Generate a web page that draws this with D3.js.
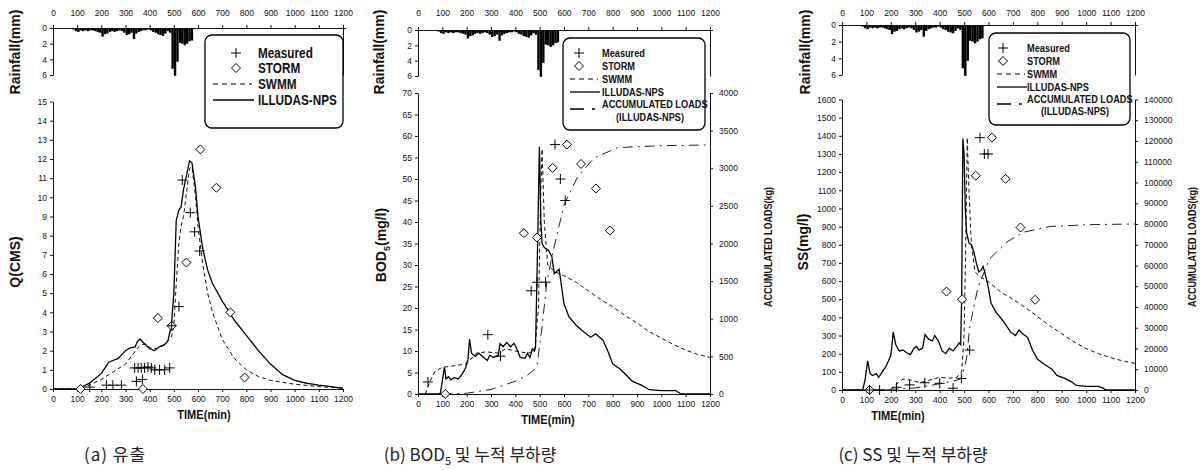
<!DOCTYPE html>
<html>
<head>
<meta charset="utf-8">
<script src="https://cdn.jsdelivr.net/npm/d3@7"></script>
<style>
  body { margin: 0; background: #fff; }
  svg { display: block; }
  .tick text { font-family: "Liberation Sans", Arial, sans-serif; font-size: 8.5px; fill: #111; }
  .domain, .tick line { stroke: #111; stroke-width: 1; }
  .ttl { font-family: "Liberation Sans", Arial, sans-serif; font-weight: bold; fill: #111; }
  .nar { font-family: "Liberation Sans", Arial, sans-serif; font-weight: bold; fill: #111; }
  .cap { font-family: "Noto Sans CJK KR", "Noto Sans", sans-serif; font-size: 17px; fill: #222; }
</style>
</head>
<body>
<svg id="chart" width="1200" height="470"></svg>
<script>
// ---- rainfall (common to all panels), 10 minute blocks ----
var rainTime = [80,90,100,110,120,130,140,150,160,170,180,190,200,210,220,230,240,250,260,270,280,290,300,310,320,330,340,350,360,370,380,390,400,410,420,430,440,450,460,470,480,490,500,510,520,530,540,550,560,570];
var rainDepth = [0.2,0.4,0.5,0.3,0.4,0.3,0.4,0.3,0.3,0.4,0.5,0.6,1.1,0.8,0.7,0.5,0.4,0.5,0.4,0.3,0.4,0.6,0.9,0.8,0.6,1.4,0.7,0.5,0.4,0.3,0.3,0.2,0.3,0.5,0.6,0.8,0.9,1.0,0.7,0.4,0.6,5.2,6.1,4.3,1.9,2.0,2.2,2.0,1.7,1.6];

// ---- (a) flow ----
var qIlludas = [[0,0],[100,0],[110,0.05],[150,0.3],[200,0.8],[230,1.4],[270,1.6],[300,2.0],[320,2.15],[340,2.2],[350,2.5],[360,2.6],[380,2.35],[400,2.1],[420,2.0],[440,2.2],[460,2.3],[475,2.5],[490,3.3],[500,5.0],[510,8.8],[520,9.3],[530,9.5],[540,10.4],[550,11.0],[565,11.9],[575,11.8],[590,10.5],[600,9.0],[620,7.3],[640,6.2],[660,5.5],[700,4.6],[750,3.6],[800,2.8],[850,2.0],[900,1.3],[950,0.75],[1000,0.45],[1050,0.3],[1100,0.2],[1150,0.12],[1200,0.03]];
var qSwmm = [[0,0],[110,0],[120,0.05],[150,0.2],[200,0.5],[250,0.9],[300,1.3],[330,1.8],[360,2.3],[380,2.35],[400,2.15],[430,2.1],[460,2.3],[490,2.7],[500,3.3],[510,5.5],[520,7.5],[530,8.5],[540,9.0],[555,10.5],[565,11.5],[575,11.6],[590,10.0],[600,8.5],[620,6.5],[640,5.0],[660,4.0],[700,2.6],[750,1.6],[800,1.0],[850,0.65],[900,0.45],[1000,0.25],[1100,0.12],[1200,0.05]];
var qMeasured = [[152,0.1],[221,0.2],[248,0.2],[283,0.2],[345,0.4],[370,0.5],[338,1.1],[352,1.1],[365,1.1],[379,1.1],[393,1.15],[407,1.1],[421,1.0],[441,1.0],[462,1.0],[483,1.1],[491,3.3],[521,4.3],[535,10.9],[568,9.2],[586,8.2],[607,7.2]];
var qStorm = [[114,0],[372,0],[434,3.7],[491,3.3],[552,6.6],[610,12.5],[676,10.5],[734,4.0],[793,0.6]];

// ---- (b) BOD5 ----
var bodIlludas = [[0,0],[90,0],[93,0.5],[109,6.3],[115,3.5],[125,4],[135,3.3],[150,3.8],[165,3.5],[180,4.5],[195,6],[205,8],[212,12.7],[220,9.5],[235,8.7],[250,9.5],[270,8.5],[285,7.8],[295,9],[310,8.5],[330,9],[337,11.7],[350,11],[365,12],[380,11],[395,11.8],[410,10],[420,8.5],[440,8.3],[450,9.5],[460,8.5],[470,10.5],[478,10],[483,11],[490,30],[499,57.5],[505,40],[510,35],[520,34],[535,33.5],[550,32],[560,28],[570,28.5],[580,29],[590,25],[600,21],[620,18],[650,16],[680,14.5],[710,13.2],[730,14],[760,12.5],[780,10],[800,7],[830,5.8],[860,4.2],[880,3],[920,2],[950,1],[1000,0.8],[1060,0.8],[1080,0],[1200,0]];
var bodSwmm = [[30,0],[50,3],[70,5.3],[100,6.2],[140,6.5],[200,7],[240,9.5],[280,9.8],[330,9.5],[360,10.5],[400,10],[450,9.5],[480,10],[495,20],[505,48],[510,57],[519,40],[533,30],[560,28.5],[600,27.5],[650,26],[700,24],[750,22],[800,20.3],[850,18.3],[900,16.5],[950,14.5],[1000,13],[1050,11.5],[1100,10.2],[1150,9.2],[1200,8.5]];
var bodLoad = [[100,0],[200,10],[300,60],[400,170],[450,250],[480,330],[490,400],[510,900],[530,1500],[551,1834],[574,2154],[601,2520],[656,2885],[724,3137],[820,3274],[1000,3300],[1200,3310]];
var bodMeasured = [[41,2.8],[287,13.8],[339,8.8],[465,24],[489,26],[524,26],[563,58],[585,50],[605,45]];
var bodStorm = [[112,0],[435,37.4],[489,36.4],[553,52.6],[612,58],[670,53.5],[731,47.8],[789,38]];

// ---- (c) SS ----
var ssIlludas = [[0,0],[85,0],[95,60],[105,160],[115,90],[125,80],[140,90],[150,70],[165,100],[180,130],[200,190],[210,320],[220,250],[235,215],[250,220],[265,205],[280,195],[295,230],[305,240],[315,220],[330,230],[340,305],[355,280],[370,270],[380,300],[395,270],[410,215],[425,200],[440,230],[455,215],[470,240],[480,260],[486,250],[490,500],[495,1385],[500,1300],[505,1000],[510,870],[520,810],[530,800],[540,760],[550,700],[560,650],[570,660],[578,680],[590,620],[600,560],[610,480],[630,430],[660,380],[690,320],[710,300],[725,330],[740,310],[760,290],[780,220],[800,170],[830,140],[860,115],[880,80],[910,65],[940,45],[960,25],[1000,20],[1050,20],[1070,10],[1080,0],[1200,0]];
var ssSwmm = [[0,0],[200,0],[220,30],[250,60],[280,55],[320,40],[360,55],[400,70],[440,65],[470,70],[490,100],[500,300],[508,900],[513,1390],[520,1100],[530,800],[545,650],[570,620],[600,595],[650,540],[700,500],[750,455],[800,405],[850,355],[900,310],[950,265],[1000,228],[1050,200],[1100,178],[1150,160],[1200,147]];
var ssLoad = [[100,0],[200,300],[300,1000],[400,3000],[480,5000],[490,6000],[510,15000],[523,30400],[557,49600],[605,63250],[674,71250],[742,76000],[851,78800],[1015,79700],[1200,80000]];
var ssMeasured = [[113,0],[154,0],[223,15],[277,28],[339,40],[400,37],[455,10],[489,64],[523,220],[565,1390],[583,1300],[598,1300]];
var ssStorm = [[113,0],[428,542],[492,500],[548,1180],[614,1390],[670,1163],[731,895],[791,497]];

var svg = d3.select("#chart");
var fmt = d3.format("d");

var diamond = "M0,-4.5L4.5,0L0,4.5L-4.5,0Z";
function crossPath(s) { return "M" + (-s) + ",0H" + s + "M0," + (-s) + "V" + s; }

// bold text squeezed sideways, like the narrow face of the original
function narrow(sel, x, y, txt, fs, sx, anchor, rot) {
    return sel.append("text").attr("class", "nar").attr("font-size", fs)
        .attr("transform", "translate(" + x + "," + y + ")" + (rot ? " rotate(-90)" : "") + " scale(" + sx + ",1)")
        .attr("text-anchor", anchor || "start").attr("dy", "0.35em").text(txt);
}

function panel(cfg) {
    var x = d3.scaleLinear().domain([0, 1200]).range([cfg.x0, cfg.x1]);
    var yr = d3.scaleLinear().domain([0, 6]).range([cfg.r0, cfg.r6]);
    var y = d3.scaleLinear().domain([0, cfg.yMax]).range([cfg.b0, cfg.bTop]);

    var g = svg.append("g");

    // rainfall hyetograph
    g.selectAll("rect.rain").data(rainTime).enter().append("rect")
        .attr("x", function(d) { return x(d); })
        .attr("width", function(d) { return x(d + 10) - x(d); })
        .attr("y", yr(0))
        .attr("height", function(d, i) { return yr(rainDepth[i]) - yr(0); })
        .attr("fill", "#000");

    g.append("g").attr("transform", "translate(0," + cfg.r0 + ")")
        .call(d3.axisTop(x).tickValues(d3.range(0, 1201, 100)).tickFormat(fmt).tickSize(3).tickPadding(cfg.r0 - 19).tickSizeOuter(0));
    g.append("g").attr("transform", "translate(" + cfg.x0 + ",0)")
        .call(d3.axisLeft(yr).tickValues([0, 2, 4, 6]).tickFormat(fmt).tickSize(3).tickSizeOuter(0));
    g.append("g").attr("transform", "translate(" + cfg.x1 + ",0)")
        .call(d3.axisRight(yr).tickValues([0]).tickSize(3).tickFormat("").tickSizeOuter(0));

    // lower chart axes
    g.append("g").attr("transform", "translate(0," + cfg.b0 + ")")
        .call(d3.axisBottom(x).tickValues(d3.range(0, 1201, 100)).tickFormat(fmt).tickSize(3).tickPadding(4).tickSizeOuter(0));
    g.append("g").attr("transform", "translate(" + cfg.x0 + ",0)")
        .call(d3.axisLeft(y).tickValues(d3.range(0, cfg.yMax + 1, cfg.yStep)).tickFormat(fmt).tickSize(3).tickSizeOuter(0));

    var line = function(sc) {
        return d3.line().x(function(d) { return x(d[0]); }).y(function(d) { return sc(d[1]); });
    };

    if (cfg.load) {
        var y2 = d3.scaleLinear().domain([0, cfg.y2Max]).range([cfg.b0, cfg.bTop]);
        g.append("g").attr("transform", "translate(" + cfg.x1 + ",0)")
            .call(d3.axisRight(y2).tickValues(d3.range(0, cfg.y2Max + 1, cfg.y2Step)).tickFormat(fmt).tickSize(3).tickPadding(6).tickSizeOuter(0));
        g.append("path").datum(cfg.load)
            .attr("d", line(y2)).attr("fill", "none").attr("stroke", "#222")
            .attr("stroke-width", 1).attr("stroke-dasharray", "10,5,2,5");
    }

    g.append("path").datum(cfg.swmm)
        .attr("d", line(y)).attr("fill", "none").attr("stroke", "#111")
        .attr("stroke-width", 1).attr("stroke-dasharray", "4,3");
    g.append("path").datum(cfg.illudas)
        .attr("d", line(y)).attr("fill", "none").attr("stroke", "#000")
        .attr("stroke-width", 1.3);

    g.selectAll("path.storm").data(cfg.storm).enter().append("path")
        .attr("class", "storm")
        .attr("d", diamond)
        .attr("transform", function(d) { return "translate(" + x(d[0]) + "," + y(d[1]) + ")"; })
        .attr("fill", "#fff").attr("stroke", "#000").attr("stroke-width", 1);
    g.selectAll("path.meas").data(cfg.measured).enter().append("path")
        .attr("class", "meas")
        .attr("d", crossPath(cfg.cross))
        .attr("transform", function(d) { return "translate(" + x(d[0]) + "," + y(d[1]) + ")"; })
        .attr("fill", "none").attr("stroke", "#000").attr("stroke-width", 1);

    // titles
    g.append("text").attr("class", "ttl").attr("font-size", 14)
        .attr("transform", "translate(" + cfg.rainLblX + ",52) rotate(-90)")
        .attr("text-anchor", "middle").text("Rainfall(mm)");
    var yt = g.append("text").attr("class", "ttl").attr("font-size", 14)
        .attr("transform", "translate(" + cfg.yLblX + "," + cfg.yLblY + ") rotate(-90)")
        .attr("text-anchor", "middle");
    cfg.yLabel(yt);
    narrow(g, cfg.timeX, cfg.b0 + 25, "TIME(min)", 13.5, 0.82, "middle");
    if (cfg.load) {
        narrow(g, cfg.accX, 247, "ACCUMULATED LOADS(kg)", 10.5, 0.86, "middle", true);
    }

    // legend
    var L = cfg.legend;
    g.append("rect").attr("x", L.x).attr("y", L.y).attr("width", L.w).attr("height", L.h)
        .attr("rx", 7).attr("fill", "#fff").attr("stroke", "#000").attr("stroke-width", 1.3);
    var lg = g.append("g");
    lg.append("path").attr("d", crossPath(cfg.cross))
        .attr("transform", "translate(" + L.sx + "," + L.rows[0] + ")")
        .attr("fill", "none").attr("stroke", "#000");
    lg.append("path").attr("d", diamond)
        .attr("transform", "translate(" + L.sx + "," + L.rows[1] + ")")
        .attr("fill", "#fff").attr("stroke", "#000");
    lg.append("line").attr("x1", L.lx0).attr("x2", L.lx1).attr("y1", L.rows[2]).attr("y2", L.rows[2])
        .attr("stroke", "#000").attr("stroke-dasharray", "5,4");
    lg.append("line").attr("x1", L.lx0).attr("x2", L.lx1 + 2).attr("y1", L.rows[3]).attr("y2", L.rows[3])
        .attr("stroke", "#000").attr("stroke-width", 1.3);
    var names = ["Measured", "STORM", "SWMM", "ILLUDAS-NPS"];
    names.forEach(function(n, i) {
        narrow(lg, L.tx, L.rows[i], n, L.fs, L.sq);
    });
    if (cfg.load) {
        lg.append("line").attr("x1", L.lx0).attr("x2", L.lx1).attr("y1", L.rows[4] + 5).attr("y2", L.rows[4] + 5)
            .attr("stroke", "#000").attr("stroke-width", 1.3).attr("stroke-dasharray", "14,8,3,8");
        narrow(lg, L.tx, L.rows[4], "ACCUMULATED LOADS", L.fs, L.sq);
        narrow(lg, L.tx + 48, L.rows[5], "(ILLUDAS-NPS)", L.fs, L.sq, "middle");
    }

    // caption
    var c = g.append("text").attr("class", "cap").attr("x", cfg.capX).attr("y", 461).attr("text-anchor", "middle");
    cfg.caption(c);
}

panel({
    x0: 53, x1: 343, r0: 28, r6: 75, b0: 389, bTop: 101.5, yMax: 15, yStep: 1,
    illudas: qIlludas, swmm: qSwmm, measured: qMeasured, storm: qStorm, cross: 5,
    rainLblX: 20, yLblX: 20, yLblY: 262, timeX: 204,
    yLabel: function(t) { t.text("Q(CMS)"); },
    legend: { x: 205, y: 35, w: 138, h: 93, fs: 14, sq: 0.84, rows: [53, 68, 84, 100], sx: 236, lx0: 213, lx1: 252, tx: 258 },
    capX: 115,
    caption: function(t) { t.attr("letter-spacing", 1).text("(a)  유출"); }
});

panel({
    x0: 418, x1: 710, r0: 30, r6: 76, b0: 394, bTop: 93, yMax: 70, yStep: 5,
    y2Max: 4000, y2Step: 500, load: bodLoad,
    illudas: bodIlludas, swmm: bodSwmm, measured: bodMeasured, storm: bodStorm, cross: 5,
    rainLblX: 384, yLblX: 386, yLblY: 245, timeX: 548, accX: 768,
    yLabel: function(t) {
        t.append("tspan").text("BOD");
        t.append("tspan").attr("font-size", 9).attr("dy", 4).text("5");
        t.append("tspan").attr("dy", -4).text("(mg/l)");
    },
    legend: { x: 563, y: 38, w: 142, h: 92, fs: 11.5, sq: 0.8, rows: [53, 66, 79, 92, 104, 117], sx: 579, lx0: 570, lx1: 598, tx: 602 },
    capX: 470,
    caption: function(t) {
        t.append("tspan").text("(b)  BOD");
        t.append("tspan").attr("font-size", 11).attr("dy", 4).text("5");
        t.append("tspan").attr("dy", -4).text("  및  누적  부하량");
    }
});

panel({
    x0: 842, x1: 1135, r0: 25, r6: 75, b0: 390, bTop: 99.5, yMax: 1600, yStep: 100,
    y2Max: 140000, y2Step: 10000, load: ssLoad,
    illudas: ssIlludas, swmm: ssSwmm, measured: ssMeasured, storm: ssStorm, cross: 5,
    rainLblX: 810, yLblX: 808, yLblY: 242, timeX: 898, accX: 1192,
    yLabel: function(t) { t.text("SS(mg/l)"); },
    legend: { x: 989, y: 33, w: 141, h: 92, fs: 11.5, sq: 0.8, rows: [48, 61, 74, 87, 99, 111], sx: 1003, lx0: 997, lx1: 1025, tx: 1027 },
    capX: 913,
    caption: function(t) { t.text("(c)  SS  및  누적  부하량"); }
});
</script>
</body>
</html>
